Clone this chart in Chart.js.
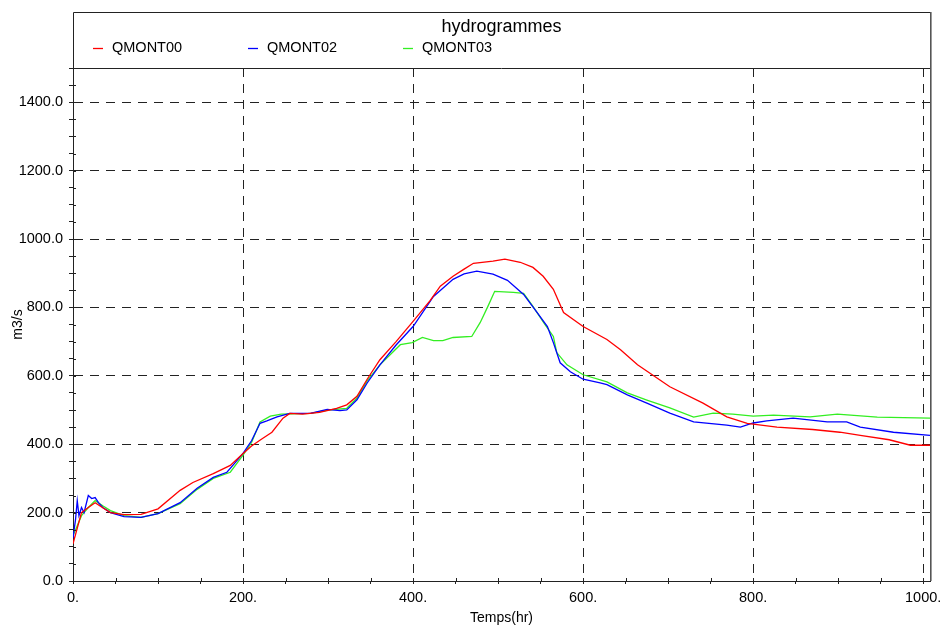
<!DOCTYPE html>
<html>
<head>
<meta charset="utf-8">
<script src="https://cdn.jsdelivr.net/npm/chart.js@4.4.1/dist/chart.umd.min.js"></script>
<style>
html,body{margin:0;padding:0;background:#fff}
</style>
</head>
<body>
<canvas id="hydro" width="943" height="629"></canvas>
<script>
// hydrogrammes - debits (m3/s) en fonction du temps (hr)
var chartTitle='hydrogrammes';
var seriesNames=['QMONT00','QMONT02','QMONT03'];
var seriesColors=['#ff0000','#0000ff','#33ee22'];

var hoursQ00=[0,10,18,26,35,44,60,80,100,126,141,165,185,200,210,222,234,247,255,270,290,310,322,334,346,361,380,400,420,432,447,460,471,494,508,526,541,553,565,577,600,628,644,664,702,741,769,793,828,870,902,926,960,985,1008];
var flowQ00=[109,200,215,229,214,200,194,195,211,265,288,314,338,373,395,415,435,476,490,488,493,505,515,540,590,647,700,759,820,862,891,912,929,935,941,932,917,891,853,785,744,706,676,632,568,520,480,461,450,443,435,426,413,397,397];

var hoursQ02=[0,3,5,7,10,13,18,22,26,30,35,44,60,80,100,126,146,165,181,188,200,210,220,228,240,255,279,299,314,322,334,346,361,380,400,424,447,460,475,494,511,530,546,558,565,573,585,600,620,628,652,675,702,730,769,785,800,816,847,887,910,926,965,1008];
var flowQ02=[126,180,235,191,215,200,250,241,244,229,215,200,188,186,197,229,271,303,318,338,373,410,461,468,480,490,490,502,498,500,530,579,632,690,744,832,882,898,906,897,879,838,785,744,697,638,612,590,579,574,544,520,491,465,456,450,462,468,476,465,465,450,435,426];

var hoursQ03=[0,10,18,26,35,44,60,80,100,126,146,165,185,200,210,220,232,245,280,300,322,334,346,361,385,399,411,424,435,447,469,479,488,496,518,530,541,555,565,569,581,600,628,652,675,702,730,753,776,800,824,867,899,946,1008];
var flowQ03=[132,191,215,235,220,206,191,186,197,226,268,300,318,368,405,465,482,488,490,500,505,535,585,632,691,697,712,703,703,712,715,756,803,847,844,841,803,750,715,668,632,603,582,550,529,506,479,491,488,482,485,480,488,479,476];

var xTicks=[0,200,400,600,800,1000];
var yTicks=[0,200,400,600,800,1000,1200,1400];

var fontFam="'Liberation Sans', Arial, Helvetica, sans-serif";
var ink='#222';

function pts(h,v){return h.map(function(x,i){return {x:x,y:v[i]};});}

// cadre, titre, legende et petites graduations vers l'interieur
var legendBox={
  id:'legendBox',
  afterDraw:function(chart){
    var c=chart.ctx,a=chart.chartArea,sx=chart.scales.x,sy=chart.scales.y;
    c.save();
    c.strokeStyle=ink;c.lineWidth=1;
    c.beginPath();
    sx.ticks.forEach(function(t){
      var p=Math.round(sx.getPixelForValue(t.value))+0.5;
      c.moveTo(p,a.bottom);c.lineTo(p,a.bottom-3);
    });
    sy.ticks.forEach(function(t){
      var p=Math.round(sy.getPixelForValue(t.value))+0.5;
      c.moveTo(a.left,p);c.lineTo(a.left+3,p);
    });
    c.moveTo(a.left+0.5,12.5);c.lineTo(a.right+0.5,12.5);
    c.moveTo(a.left+0.5,12.5);c.lineTo(a.left+0.5,a.top);
    c.moveTo(a.left,a.top+0.5);c.lineTo(a.right,a.top+0.5);
    c.stroke();
    c.strokeStyle='#555';c.lineWidth=1.6;
    c.beginPath();c.moveTo(a.right+0.8,12);c.lineTo(a.right+0.8,a.bottom);c.stroke();
    c.fillStyle='#000';
    c.font='18px '+fontFam;
    c.textAlign='center';c.textBaseline='alphabetic';
    c.fillText(chartTitle,(a.left+a.right)/2,32);
    c.font='14.5px '+fontFam;
    c.textAlign='left';c.textBaseline='middle';
    chart.data.datasets.forEach(function(ds,i){
      var x0=a.left+20+i*155;
      c.strokeStyle=ds.borderColor;c.lineWidth=1.3;
      c.beginPath();c.moveTo(x0,48.5);c.lineTo(x0+10,48.5);c.stroke();
      c.fillText(ds.label,x0+19,48);
    });
    c.restore();
  }
};

new Chart(document.getElementById('hydro'),{
  type:'line',
  data:{
    datasets:[
      {label:seriesNames[0],data:pts(hoursQ00,flowQ00),borderColor:seriesColors[0]},
      {label:seriesNames[1],data:pts(hoursQ02,flowQ02),borderColor:seriesColors[1]},
      {label:seriesNames[2],data:pts(hoursQ03,flowQ03),borderColor:seriesColors[2]}
    ]
  },
  options:{
    responsive:false,
    animation:false,
    devicePixelRatio:1,
    layout:{padding:{top:68,right:13,left:0,bottom:0}},
    elements:{
      line:{borderWidth:1.3,tension:0,fill:false},
      point:{radius:0,hoverRadius:0}
    },
    plugins:{legend:{display:false},title:{display:false},tooltip:{enabled:false}},
    scales:{
      x:{
        type:'linear',min:0,max:1008,
        afterFit:function(s){s.height=48;s.paddingLeft=0;s.paddingRight=0;},
        ticks:{stepSize:50,includeBounds:false,autoSkip:false,maxRotation:0,padding:5,color:'#000',
          font:{family:fontFam,size:14.5},
          callback:function(v){return xTicks.indexOf(v)>=0?v+'.':'';}},
        grid:{
          color:function(ctx){return ctx.tick&&ctx.tick.value>0&&xTicks.indexOf(ctx.tick.value)>=0?ink:'rgba(0,0,0,0)';},
          tickColor:ink,tickLength:3,lineWidth:1
        },
        border:{display:true,color:ink,width:1,dash:[9,7]},
        title:{display:true,text:'Temps(hr)',color:'#000',font:{family:fontFam,size:14},padding:{top:0,bottom:2}}
      },
      y:{
        type:'linear',min:0,max:1500,
        afterFit:function(s){s.width=73;s.paddingTop=0;s.paddingBottom=0;},
        ticks:{stepSize:50,includeBounds:false,autoSkip:false,padding:6,color:'#000',
          font:{family:fontFam,size:14.5},
          callback:function(v){return yTicks.indexOf(v)>=0?v.toFixed(1):'';}},
        grid:{
          color:function(ctx){return ctx.tick&&ctx.tick.value>0&&yTicks.indexOf(ctx.tick.value)>=0?ink:'rgba(0,0,0,0)';},
          tickColor:ink,tickLength:4,lineWidth:1
        },
        border:{display:true,color:ink,width:1,dash:[9,7]},
        title:{display:true,text:'m3/s',color:'#000',font:{family:fontFam,size:14},padding:10}
      }
    }
  },
  plugins:[legendBox]
});
</script>
</body>
</html>
